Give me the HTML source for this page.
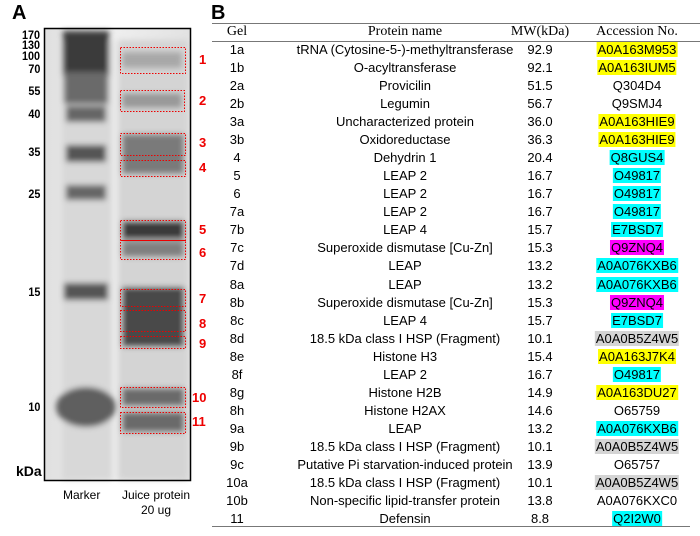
<!DOCTYPE html>
<html><head><meta charset="utf-8">
<style>
body{margin:0;width:700px;height:536px;background:#fff;position:relative;overflow:hidden;font-family:"Liberation Sans",sans-serif}
.abs{position:absolute}
.lab{font-weight:bold;font-size:20px;position:absolute}
.mk{position:absolute;font-weight:bold;font-size:12px;right:660px;transform:scaleX(0.9);transform-origin:right}
.bn{position:absolute;color:#e00;font-weight:bold;font-size:13px}
.row{position:absolute;left:212px;width:488px;height:18px;font-size:13px;line-height:18px;color:#000}
.row span{position:absolute;white-space:nowrap;transform:translateX(-50%)}
.hl{padding:0 1px}
.y{background:#ffff00}.c{background:#00ffff}.m{background:#ff00ff}.g{background:#d4d4d4}
.hd span{font-family:"Liberation Serif",serif;font-size:14px}
</style></head><body>
<div class="lab" style="left:12px;top:2px">A</div>
<div class="lab" style="left:211px;top:2px">B</div>

<svg class="abs" style="left:0;top:0" width="212" height="536">
<defs>
<filter id="b" x="-30%" y="-100%" width="160%" height="300%"><feGaussianBlur stdDeviation="3"/></filter>
<linearGradient id="bg" x1="0" y1="0" x2="1" y2="0"><stop offset="0" stop-color="#e0e0e0"/><stop offset="0.5" stop-color="#eeeeee"/><stop offset="1" stop-color="#e2e2e2"/></linearGradient>
</defs>
<rect x="44" y="28" width="147" height="453" fill="url(#bg)"/>
<g filter="url(#b)">
<rect x="62" y="40" width="50" height="440" fill="#d8d8d8"/>
<rect x="118" y="40" width="70" height="440" fill="#d4d4d4"/>
<rect x="63" y="31" width="46" height="45" fill="#3a3a3a"/>
<rect x="64" y="72" width="44" height="32" fill="#6a6a6a"/>
<rect x="66" y="106" width="40" height="16" fill="#666"/>
<rect x="66" y="145" width="40" height="17" fill="#555"/>
<rect x="66" y="185" width="40" height="15" fill="#666"/>
<rect x="64" y="283" width="44" height="17" fill="#555"/>
<ellipse cx="86" cy="407" rx="30" ry="20" fill="#5e5e5e"/>
<rect x="122" y="52" width="60" height="16" fill="#a8a8a8"/>
<rect x="122" y="93" width="60" height="15" fill="#999"/>
<rect x="122" y="134" width="62" height="40" fill="#7a7a7a"/>
<rect x="122" y="221" width="62" height="18" fill="#3a3a3a"/>
<rect x="122" y="241" width="62" height="16" fill="#808080"/>
<rect x="122" y="287" width="62" height="60" fill="#4a4a4a"/>
<rect x="122" y="388" width="62" height="18" fill="#6a6a6a"/>
<rect x="122" y="412" width="62" height="20" fill="#6a6a6a"/>
</g>
<rect x="44.5" y="28.5" width="146" height="452" fill="none" stroke="#000" stroke-width="1.5"/>
<g fill="none" stroke="#e00" stroke-width="1" stroke-dasharray="1.5,1.5">
<rect x="120.5" y="47.5" width="65" height="26"/>
<rect x="120.5" y="90.5" width="64" height="21"/>
<rect x="120.5" y="133.5" width="65" height="22"/>
<rect x="120.5" y="160.5" width="65" height="16"/>
<rect x="120.5" y="220.5" width="65" height="20"/>
<rect x="120.5" y="240.5" width="65" height="19"/>
<rect x="120.5" y="289.5" width="65" height="17"/>
<rect x="120.5" y="310.5" width="65" height="21"/>
<rect x="120.5" y="336.5" width="65" height="12"/>
<rect x="120.5" y="387.5" width="65" height="20"/>
<rect x="120.5" y="412.5" width="65" height="21"/>
</g>
</svg>

<div class="mk" style="top:28px">170</div>
<div class="mk" style="top:38px">130</div>
<div class="mk" style="top:49px">100</div>
<div class="mk" style="top:62px">70</div>
<div class="mk" style="top:84px">55</div>
<div class="mk" style="top:107px">40</div>
<div class="mk" style="top:145px">35</div>
<div class="mk" style="top:187px">25</div>
<div class="mk" style="top:285px">15</div>
<div class="mk" style="top:400px">10</div>
<div class="abs" style="left:16px;top:463px;font-weight:bold;font-size:14px">kDa</div>

<div class="bn" style="left:199px;top:52px">1</div>
<div class="bn" style="left:199px;top:93px">2</div>
<div class="bn" style="left:199px;top:135px">3</div>
<div class="bn" style="left:199px;top:160px">4</div>
<div class="bn" style="left:199px;top:222px">5</div>
<div class="bn" style="left:199px;top:245px">6</div>
<div class="bn" style="left:199px;top:291px">7</div>
<div class="bn" style="left:199px;top:316px">8</div>
<div class="bn" style="left:199px;top:336px">9</div>
<div class="bn" style="left:192px;top:390px">10</div>
<div class="bn" style="left:192px;top:414px">11</div>

<div class="abs" style="left:63px;top:488px;font-size:12px">Marker</div>
<div class="abs" style="left:120px;top:488px;font-size:12px;text-align:center;width:72px;line-height:15px">Juice protein<br>20 ug</div>

<div class="abs" style="left:212px;top:23px;width:488px;height:1px;background:#777"></div>
<div class="abs" style="left:212px;top:41px;width:488px;height:1px;background:#777"></div>
<div class="abs" style="left:212px;top:526px;width:478px;height:1px;background:#777"></div>

<div class="row hd" style="top:23px">
<span style="left:25px">Gel</span><span style="left:193px">Protein name</span><span style="left:328px">MW(kDa)</span><span style="left:425px">Accession No.</span></div>

<div id="rows"></div>
<script>
const gels=["1a","1b","2a","2b","3a","3b","4","5","6","7a","7b","7c","7d","8a","8b","8c","8d","8e","8f","8g","8h","9a","9b","9c","10a","10b","11"];
const names=["tRNA (Cytosine-5-)-methyltransferase","O-acyltransferase","Provicilin","Legumin","Uncharacterized protein","Oxidoreductase","Dehydrin 1","LEAP 2","LEAP 2","LEAP 2","LEAP 4","Superoxide dismutase [Cu-Zn]","LEAP","LEAP","Superoxide dismutase [Cu-Zn]","LEAP 4","18.5 kDa class I HSP (Fragment)","Histone H3","LEAP 2","Histone H2B","Histone H2AX","LEAP","18.5 kDa class I HSP (Fragment)","Putative Pi starvation-induced protein","18.5 kDa class I HSP (Fragment)","Non-specific lipid-transfer protein","Defensin"];
const mws=["92.9","92.1","51.5","56.7","36.0","36.3","20.4","16.7","16.7","16.7","15.7","15.3","13.2","13.2","15.3","15.7","10.1","15.4","16.7","14.9","14.6","13.2","10.1","13.9","10.1","13.8","8.8"];
const accs=["A0A163M953","A0A163IUM5","Q304D4","Q9SMJ4","A0A163HIE9","A0A163HIE9","Q8GUS4","O49817","O49817","O49817","E7BSD7","Q9ZNQ4","A0A076KXB6","A0A076KXB6","Q9ZNQ4","E7BSD7","A0A0B5Z4W5","A0A163J7K4","O49817","A0A163DU27","O65759","A0A076KXB6","A0A0B5Z4W5","O65757","A0A0B5Z4W5","A0A076KXC0","Q2I2W0"];
const hls=["y","y","","","y","y","c","c","c","c","c","m","c","c","m","c","g","y","c","y","","c","g","","g","","c"];
const host=document.getElementById('rows');
gels.forEach((g,i)=>{
  const r=document.createElement('div');
  r.className='row';
  r.style.top=(41+i*18.04)+'px';
  
  
  r.innerHTML='<span style="left:25px">'+g+'</span><span style="left:193px">'+names[i]+'</span><span style="left:328px">'+mws[i]+'</span><span style="left:425px"><span class="hl '+hls[i]+'" style="position:static;transform:none">'+accs[i]+'</span></span>';
  host.appendChild(r);
});
</script>
</body></html>
